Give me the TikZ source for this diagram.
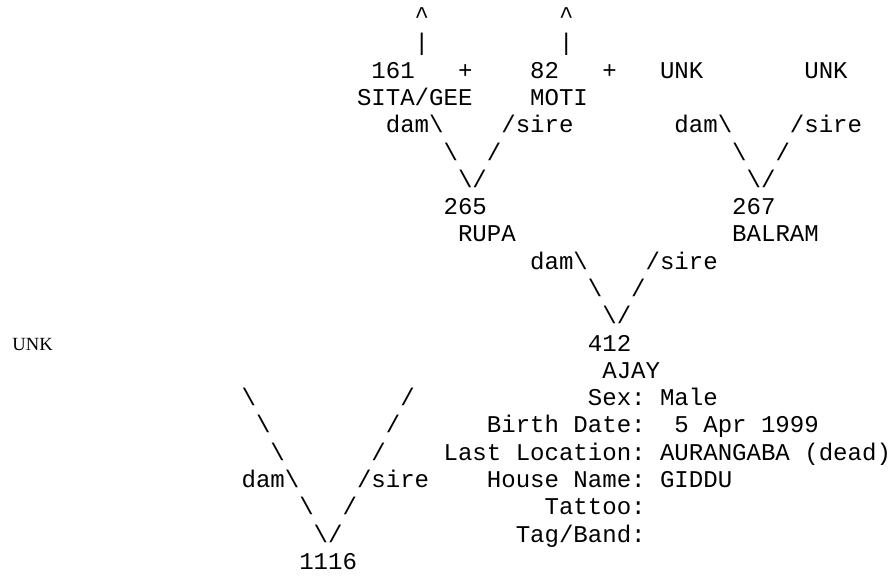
\documentclass[tikz,border=0pt]{standalone}
\usepackage{fontspec}
\newfontfamily\pedmono{Liberation Mono}
\newfontfamily\pedserif{Liberation Serif}
\newcommand{\bs}{\textbackslash}
\begin{document}
\frenchspacing
\begin{tikzpicture}[x=14.43pt,y=-27.28pt,
  cell/.style={anchor=base west,inner sep=0pt,outer sep=0pt,font=\pedmono\frenchspacing\fontsize{24.05pt}{27.28pt}\selectfont},
  serifcell/.style={anchor=base west,inner sep=0pt,outer sep=0pt,font=\pedserif\fontsize{18.6pt}{22pt}\selectfont}]
\useasboundingbox (0pt,0pt) rectangle (891pt,-576pt);
\node[serifcell] (unkleft) at (12.5pt,-350pt) {UNK};
\begin{scope}[shift={(10.7pt,-23.7pt)}]
% line 0-1
\node[cell] (upA) at (28,0) {\textasciicircum};
\node[cell] (upB) at (38,0) {\textasciicircum};
\node[cell] (barA) at (28,1) {|};
\node[cell] (barB) at (38,1) {|};
% line 2
\node[cell] (id161) at (25,2) {161};
\node[cell] (plusA) at (31,2) {+};
\node[cell] (id82) at (36,2) {82};
\node[cell] (plusB) at (41,2) {+};
\node[cell] (unkA) at (45,2) {UNK};
\node[cell] (unkB) at (55,2) {UNK};
% line 3
\node[cell] (nmsita) at (24,3) {SITA/GEE};
\node[cell] (nmmoti) at (36,3) {MOTI};
% line 4
\node[cell] (damA) at (26,4) {dam\bs};
\node[cell] (sireA) at (34,4) {/sire};
\node[cell] (damB) at (46,4) {dam\bs};
\node[cell] (sireB) at (54,4) {/sire};
% line 5-6
\node[cell] (lnA1) at (30,5) {\bs};
\node[cell] (lnA2) at (33,5) {/};
\node[cell] (lnB1) at (50,5) {\bs};
\node[cell] (lnB2) at (53,5) {/};
\node[cell] (vA) at (31,6) {\bs/};
\node[cell] (vB) at (51,6) {\bs/};
% line 7-8
\node[cell] (id265) at (30,7) {265};
\node[cell] (id267) at (50,7) {267};
\node[cell] (nmrupa) at (31,8) {RUPA};
\node[cell] (nmbalram) at (50,8) {BALRAM};
% line 9-11
\node[cell] (damC) at (36,9) {dam\bs};
\node[cell] (sireC) at (44,9) {/sire};
\node[cell] (lnC1) at (40,10) {\bs};
\node[cell] (lnC2) at (43,10) {/};
\node[cell] (vC) at (41,11) {\bs/};
% line 12-13
\node[cell] (id412) at (40,12) {412};
\node[cell] (nmajay) at (41,13) {AJAY};
% line 14-20
\node[cell] (lnD1) at (16,14) {\bs};
\node[cell] (lnD2) at (27,14) {/};
\node[cell] (infosex) at (40,14) {Sex: Male};
\node[cell] (lnE1) at (17,15) {\bs};
\node[cell] (lnE2) at (26,15) {/};
\node[cell] (infobirth) at (33,15) {Birth Date:\ \ 5 Apr 1999};
\node[cell] (lnF1) at (18,16) {\bs};
\node[cell] (lnF2) at (25,16) {/};
\node[cell] (infoloc) at (30,16) {Last Location: AURANGABA (dead)};
\node[cell] (damD) at (16,17) {dam\bs};
\node[cell] (sireD) at (24,17) {/sire};
\node[cell] (infohouse) at (33,17) {House Name: GIDDU};
\node[cell] (lnG1) at (20,18) {\bs};
\node[cell] (lnG2) at (23,18) {/};
\node[cell] (infotattoo) at (37,18) {Tattoo:};
\node[cell] (vD) at (21,19) {\bs/};
\node[cell] (infotag) at (35,19) {Tag/Band:};
\node[cell] (id1116) at (20,20) {1116};
\end{scope}
\end{tikzpicture}
\end{document}
